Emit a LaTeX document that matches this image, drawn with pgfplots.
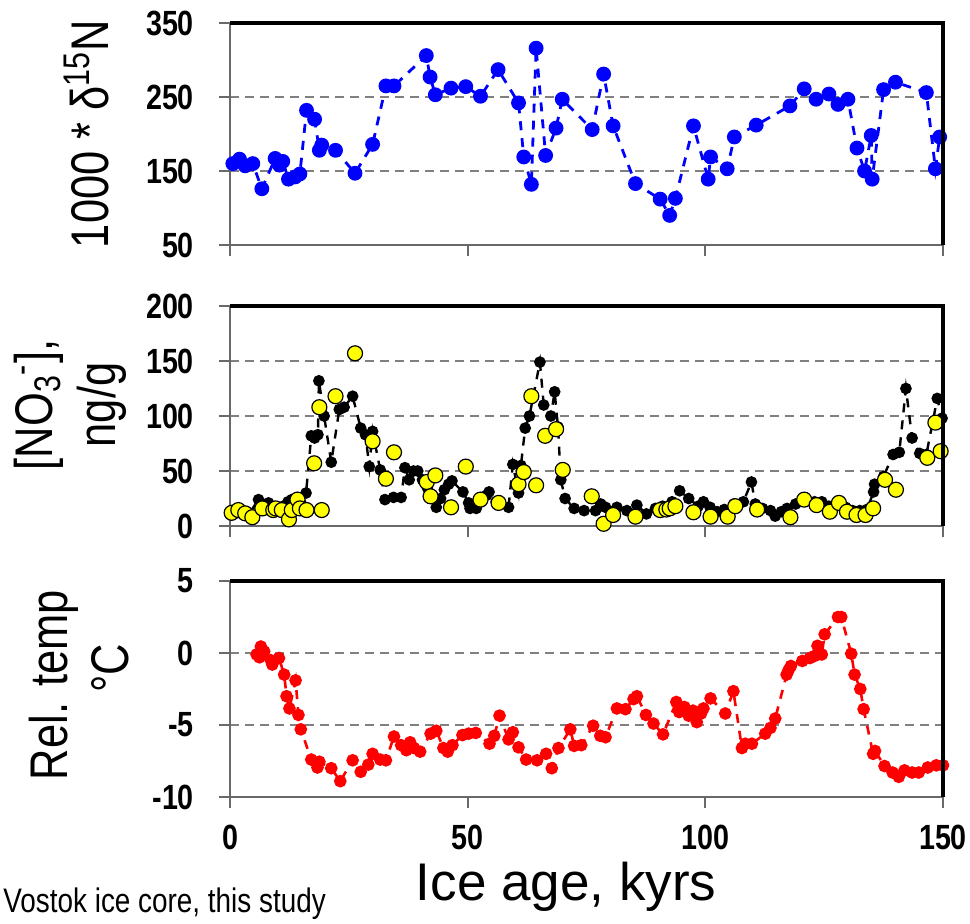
\documentclass[border=0pt]{standalone}
\usepackage{fontspec}
\setmainfont{Liberation Sans}[FakeStretch=0.82]
\newfontfamily\widefont{Liberation Sans}
\usepackage{pgfplots}
\pgfplotsset{compat=1.18}
\definecolor{gridgray}{RGB}{128,128,128}
\definecolor{axgray}{RGB}{105,105,105}
\definecolor{myyellow}{RGB}{255,255,0}
\pgfplotsset{
 panel/.style={
  scale only axis, width=356.5pt, anchor=north west,
  xmin=0, xmax=150, clip=false,
  axis line style={axgray, line width=1.1pt},
  tick style={axgray, line width=0.9pt},
  tick align=outside, major tick length=5.5pt, tick pos=left,
  xtick={0,50,100,150},
  ymajorgrids, grid style={gridgray, line width=0.9pt, dash pattern=on 4.5pt off 3pt},
  tick label style={font=\fontsize{17.5}{20}\selectfont\bfseries},
  yticklabel style={xshift=-9pt},
  /pgf/number format/assume math mode=true,
  after end axis/.code={\draw[black, line width=1.8pt] (rel axis cs:0,1) -- (rel axis cs:1,1) -- (rel axis cs:1,0);},
 }
}
\begin{document}
\begin{tikzpicture}
\useasboundingbox (0pt,0pt) rectangle (485pt,-461.5pt);
% ---------------- Panel 1: d15N
\begin{axis}[panel, at={(115pt,-11.5pt)}, height=111pt,
  ymin=50, ymax=350, ytick={50,150,250,350}, xticklabels={}]
\addplot[blue, line width=1.4pt, dash pattern=on 4.5pt off 4pt,
  mark=*, mark size=3pt, mark options={solid, fill=blue, draw=blue}] coordinates {
(0.6,160)(2.0,166)(3.2,157)(4.8,160)(6.7,126)(9.5,167)(10.4,158)(11.1,163)(12.3,139)(13.7,142)(14.7,146)
(16.1,232)(17.8,220)(18.8,178)(19.3,185)(22.2,178)(26.3,147)(30.0,186)(32.8,265)(34.5,265)
(41.3,306)(42.1,277)(43.2,253)(46.5,262)(49.6,264)(52.7,251)(56.4,287)(60.7,242)(61.8,169)
(63.4,132)(64.4,316)(66.4,171)(68.6,208)(69.9,247)(76.2,206)(78.6,281)(80.6,211)(85.3,133)
(90.5,112)(92.5,90)(93.7,113)(97.5,211)(100.6,139)(101.1,169)(104.6,153)(106.1,196)(110.7,212)
(117.8,238)(120.8,261)(123.3,247)(126.0,254)(127.9,240)(130.0,247)(131.9,181)(133.5,150)
(134.9,198)(135.1,139)(137.5,260)(140.0,270)(146.5,256)(148.4,153)(149.3,196)
};
\end{axis}
% ---------------- Panel 2: NO3
\begin{axis}[panel, at={(115pt,-153pt)}, height=110pt,
  ymin=0, ymax=200, ytick={0,50,100,150,200}, xticklabels={}]
\addplot[black, line width=1.2pt, dash pattern=on 4.5pt off 4pt,
  mark=*, mark size=2.3pt, mark options={solid, fill=black, draw=black}] coordinates {
(1.0,14)(2.5,13)(4.0,11)(6.0,24)(7.0,18)(8.1,21)(9.5,17)(11.2,18)(12.2,22)(13.0,24)(13.8,20)(15.0,20)
(16.0,30)(17.1,82)(17.8,80)(18.5,83)(18.7,132)(19.8,100)(21.3,58)(23.0,106)(24.0,108)(25.8,118)
(27.5,89)(28.5,83)(29.3,54)(30.0,86)(31.6,51)(32.6,24)(34.4,26)(36.0,26)(36.8,53)(37.7,42)(38.6,50)
(39.5,50)(40.5,42)(41.5,35)(42.5,28)(43.4,17)(44.3,25)(45.1,33)(46.0,38)(46.7,41)(49.0,31)(50.2,21)
(50.5,16)(51.8,16)(54.0,28)(54.5,31)(56.0,22)(58.6,17)(59.5,56)(60.7,30)(61.2,55)(62.1,89)(63.0,100)
(65.2,149)(66.0,110)(67.5,100)(68.3,122)(69.0,90)(69.6,42)(70.5,25)(72.4,16)(74.5,14)(76.9,14)
(78.0,20)(79.0,17)(81.4,17)(83.5,14)(85.6,19)(87.6,11)(89.5,16)(91.0,18)(93.0,22)(94.6,32)(96.5,25)
(98.5,18)(99.6,22)(101,17)(102.5,13)(104,15)(106,20)(108,22)(109.7,40)(110.5,20)(112,16)(113.7,14)
(114.7,9)(116,13)(117.2,16)(119,20)(121,24)(123,22)(124.5,22)(126,18)(128,22)(129.5,17)(131,14)
(132.5,14)(134,15)(135.4,31)(135.6,38)(137.5,45)(139.5,65)(140.8,67)(142.2,125)(143.5,80)(145.1,66)
(146.5,65)(148.8,116)(149.8,98)
};
\addplot[only marks, mark=*, mark size=3.75pt, mark options={fill=myyellow, draw=black, line width=0.6pt}] coordinates {
(0.35,12)(1.75,14.5)(3.2,11.5)(4.7,8)(6.8,16)(9.1,14.5)(9.6,16)(10.9,14.5)(12.4,6)(13.0,14.5)(14.2,24)
(14.7,16)(16.1,14.5)(17.7,57)(18.8,108)(19.3,14.5)(22.2,118)(26.3,157)(30.0,77)(32.8,43)(34.5,67)
(41.4,40)(42.2,27)(43.2,46)(46.5,17)(49.6,54)(52.7,24)(56.5,21)(60.7,38)(61.8,49)(63.4,118)(64.4,37)
(66.3,82)(68.6,88)(70.0,51)(76.1,27)(78.6,2)(80.6,10)(85.3,8.5)(90.5,14.5)(91.8,15)(92.5,16)(93.7,18)
(97.5,12.5)(101.1,8.5)(104.7,8.5)(106.3,18)(110.9,15)(117.9,8)(120.8,24)(123.4,19)(126.2,13)
(128.1,21)(129.8,13)(131.8,10)(133.7,10)(135.3,16)(137.8,42)(140.1,33)(146.7,62)(148.4,94)(149.5,68)
};
\end{axis}
% ---------------- Panel 3: temperature
\begin{axis}[panel, at={(115pt,-290.5pt)}, height=108pt,
  ymin=-10, ymax=5, ytick={-10,-5,0,5},
  xticklabel style={yshift=-5pt}]
\addplot[red, line width=1.3pt, dash pattern=on 4.5pt off 4pt,
  mark=*, mark size=2.5pt, mark options={solid, fill=red, draw=red}] coordinates {
(5.6,-0.1)(6.2,-0.3)(6.5,0.45)(7.2,0.1)(8.6,-0.5)(8.9,-0.8)(10.3,-0.35)(11.4,-1.5)(11.9,-3.0)(12.5,-3.85)
(13.8,-1.9)(14.4,-4.3)(14.9,-5.3)(17.1,-7.4)(18.4,-7.95)(18.8,-7.55)(21.3,-8.0)(23.2,-8.9)(25.8,-7.45)
(27.5,-8.25)(29.1,-7.75)(30.0,-7.0)(31.6,-7.4)(32.8,-7.45)(34.5,-5.8)(36.0,-6.4)(37.1,-6.75)(37.9,-6.2)
(38.7,-6.6)(40.0,-6.85)(42.2,-5.6)(43.4,-5.4)(44.9,-6.6)(45.8,-6.85)(46.8,-6.4)(48.9,-5.7)(50.2,-5.6)
(51.7,-5.55)(54.6,-6.3)(55.6,-5.75)(56.7,-4.35)(58.6,-6.0)(59.5,-5.5)(60.7,-6.55)(62.3,-7.4)(64.6,-7.45)
(66.5,-7.0)(67.7,-8.0)(69.1,-6.6)(71.6,-5.3)(72.4,-6.45)(73.9,-6.4)(76.4,-5.05)(77.9,-5.75)(79.0,-5.85)
(81.4,-3.85)(83.2,-3.9)(84.9,-3.2)(85.6,-3.0)(87.5,-4.3)(89.1,-4.9)(91.1,-5.65)(93.9,-3.4)(94.5,-4.1)
(95.6,-3.75)(96.5,-4.35)(97.4,-4.0)(98.2,-4.8)(99.1,-4.2)(99.6,-3.85)(101.1,-3.15)(104.2,-4.2)
(105.9,-2.65)(107.7,-6.6)(108.4,-6.3)(109.8,-6.3)(112.6,-5.6)(113.7,-5.2)(114.7,-4.55)(117.1,-1.5)
(117.5,-1.2)(118.0,-0.9)(120.4,-0.55)(122.0,-0.35)(123.0,-0.2)(123.6,0.5)(124.5,-0.1)(125.1,1.3)
(127.9,2.5)(128.6,2.5)(130.7,-0.05)(131.4,-1.5)(132.6,-2.5)(133.3,-3.9)(135.3,-7.0)(135.7,-6.8)
(137.7,-7.85)(139.4,-8.3)(140.7,-8.6)(141.9,-8.15)(143.5,-8.3)(144.9,-8.3)(146.8,-7.95)(148.6,-7.8)(150,-7.8)
};
\end{axis}
% ---------------- labels
\begin{scope}[every node/.style={inner sep=0pt, font=\fontsize{26.5}{30}\selectfont}]
\node[rotate=90, anchor=base] at (54pt,-67pt) {1000 * δ\textsuperscript{15}N};
\node[rotate=90, anchor=base] at (26pt,-202.5pt) {[NO\textsubscript{3}\textsuperscript{-}],};
\node[rotate=90, anchor=base] at (57.5pt,-202.5pt) {ng/g};
\node[rotate=90, anchor=base] at (34pt,-342.5pt) {Rel. temp};
\node[rotate=90, anchor=base] at (64pt,-334pt) {°C};
\end{scope}
\node[inner sep=0pt, anchor=base, font=\widefont\fontsize{26.5}{30}\selectfont] at (283pt,-450pt) {Ice age, kyrs};
\node[inner sep=0pt, anchor=base west, font=\fontsize{17}{20}\selectfont] at (1.5pt,-456pt) {Vostok ice core, this study};
\end{tikzpicture}
\end{document}
